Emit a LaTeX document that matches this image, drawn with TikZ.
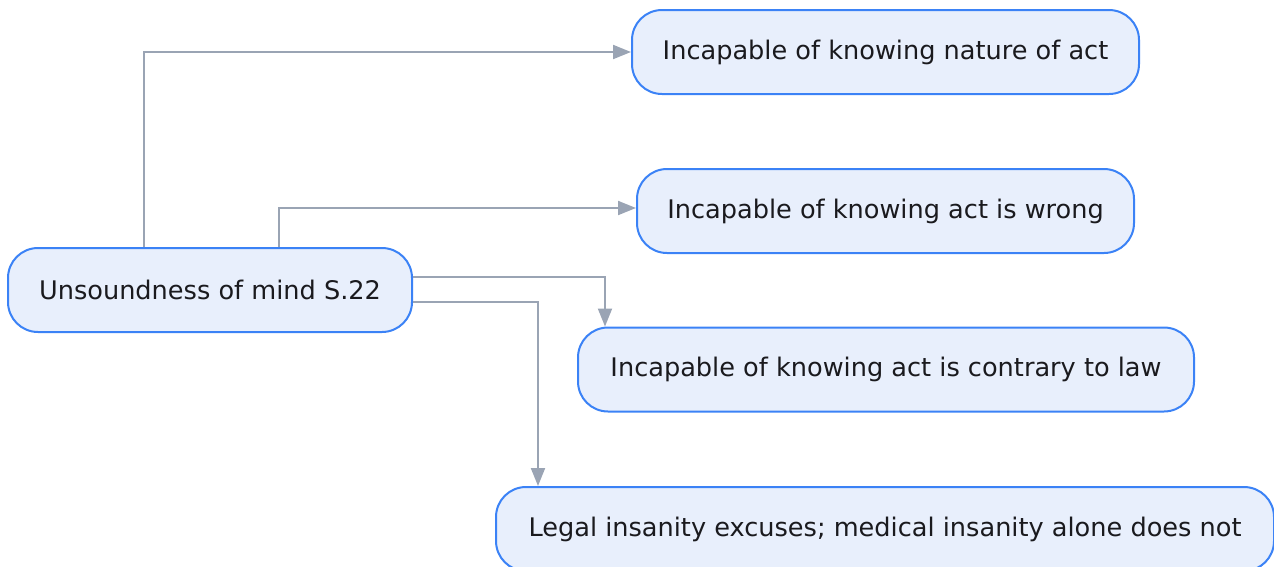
\documentclass[tikz,border=0pt]{standalone}
\usepackage{fontspec}
\setmainfont{DejaVu Sans}
\usetikzlibrary{arrows.meta}
\definecolor{boxfill}{RGB}{232,239,252}
\definecolor{boxline}{RGB}{59,130,246}
\definecolor{linkgray}{RGB}{154,164,180}
\definecolor{ink}{RGB}{26,26,30}
\tikzset{
  box/.style={draw=boxline, fill=boxfill, line width=2pt, rounded corners=30pt,
    minimum height=84pt, inner sep=0pt, text=ink,
    font=\fontsize{25.6}{31}\selectfont},
  link/.style={draw=linkgray, line width=2pt,
    -{Triangle[length=18pt,width=14pt]}},
}
\begin{document}
\begin{tikzpicture}[x=1pt,y=-1pt]
\useasboundingbox (0,0) rectangle (1274,566);
% root and the four branches
\node[box, minimum width=404pt] (root) at (210,290) {Unsoundness of mind S.22};
\node[box, minimum width=507pt] (nature) at (885.5,52) {Incapable of knowing nature of act};
\node[box, minimum width=497pt] (wrong) at (885.5,211) {Incapable of knowing act is wrong};
\node[box, minimum width=616pt] (law) at (886,369.5) {Incapable of knowing act is contrary to law};
\node[box, minimum width=778pt] (legal) at (885,529) {Legal insanity excuses; medical insanity alone does not};
% connectors
\draw[link] ([xshift=-66pt]root.north) |- (nature.west);
\draw[link] ([xshift=69pt]root.north) |- ([yshift=3pt]wrong.west);
\draw[link] ([yshift=13pt]root.east) -| ([xshift=-281pt]law.north);
\draw[link] ([yshift=-12pt]root.east) -| ([xshift=-347pt]legal.north);
\end{tikzpicture}
\end{document}
